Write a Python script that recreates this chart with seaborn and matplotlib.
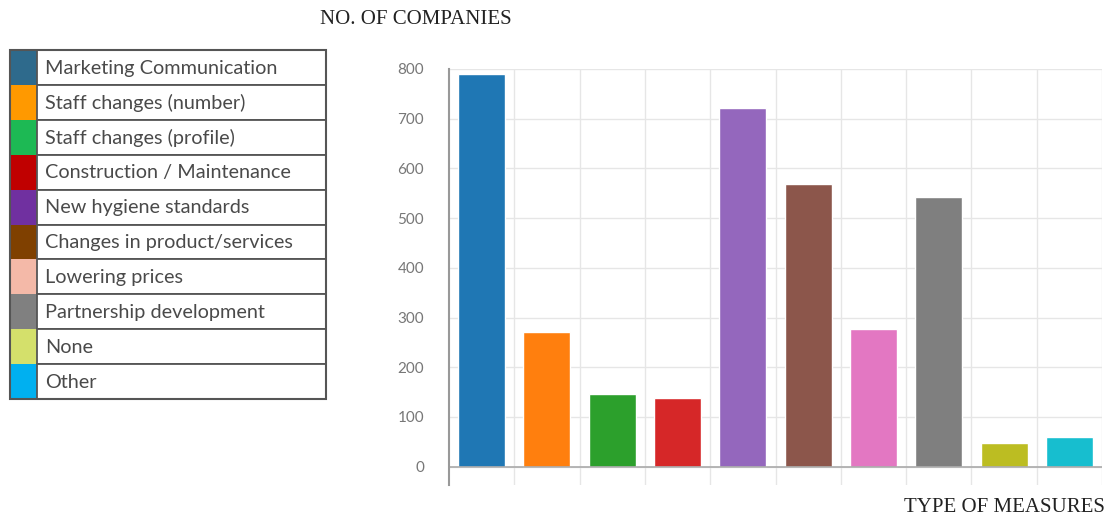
import matplotlib
matplotlib.use("Agg")
import matplotlib.pyplot as plt
from matplotlib.patches import Rectangle
import seaborn as sns
import numpy as np
import pandas as pd

# data
measures = ["Marketing Communication", "Staff changes (number)", "Staff changes (profile)",
            "Construction / Maintenance", "New hygiene standards", "Changes in product/services",
            "Lowering prices", "Partnership development", "None", "Other"]
companies = [790, 270, 146, 138, 721, 569, 277, 542, 47, 59]
bar_colors = ["#1f77b4", "#ff7f0e", "#2ca02c", "#d62728", "#9467bd",
              "#8c564b", "#e377c2", "#7f7f7f", "#bcbd22", "#17becf"]
legend_colors = ["#2e6a8c", "#ff9900", "#1db954", "#c00000", "#7030a0",
                 "#7f4000", "#f4b9a8", "#808080", "#d4e06b", "#00b0f0"]
yticks = [0, 100, 200, 300, 400, 500, 600, 700, 800]

sns.set_style("white")
plt.rcParams['font.family'] = ['Lato', 'DejaVu Sans']

df = pd.DataFrame({"measure": measures, "companies": companies})

fig = plt.figure(figsize=(11.1, 5.2), dpi=100)
ax = fig.add_axes([449 / 1110, 35 / 520, 653 / 1110, 416 / 520])

sns.barplot(data=df, x="measure", y="companies", hue="measure", palette=bar_colors,
            legend=False, width=0.72, saturation=1, ax=ax)

ax.set_xlim(-0.5, len(measures) - 0.5)
ax.set_ylim(-37, 800)
ax.set_yticks(yticks)
ax.set_yticklabels([str(t) for t in yticks], color="#777777", fontsize=11)
ax.set_xticks(np.arange(len(measures)) + 0.5, minor=False)
ax.set_xticklabels([])
ax.tick_params(axis="x", length=0)
ax.tick_params(axis="y", length=14, color="#dddddd", width=1, pad=4)
ax.set_xlabel("")
ax.set_ylabel("")
ax.set_axisbelow(True)
ax.grid(True, color="#e6e6e6", linewidth=1)
for s in ["top", "right", "bottom"]:
    ax.spines[s].set_visible(False)
ax.spines["left"].set_color("#999999")
ax.spines["left"].set_linewidth(1.5)
ax.axhline(0, color="#aaaaaa", linewidth=1.2, zorder=1)

fig.text(320 / 1110, 1 - 19 / 520, "NO. OF COMPANIES", family="Liberation Serif",
         fontsize=15, color="#222222", va="center", ha="left")
fig.text(1105 / 1110, 1 - 507 / 520, "TYPE OF MEASURES", family="Liberation Serif",
         fontsize=15, color="#222222", va="center", ha="right")

# legend drawn as a table
lg = fig.add_axes([10 / 1110, 1 - 399 / 520, 316 / 1110, 349 / 520])
lg.set_xlim(0, 316)
lg.set_ylim(len(measures), 0)
lg.axis("off")
for i, (name, col) in enumerate(zip(measures, legend_colors)):
    lg.add_patch(Rectangle((0, i), 27, 1, facecolor=col, edgecolor="none"))
    lg.add_patch(Rectangle((27, i), 289, 1, facecolor="white", edgecolor="#555555",
                           linewidth=1.3))
    lg.text(35, i + 0.52, name, fontsize=14.3, color="#4a4a4a", va="center", ha="left")
lg.add_patch(Rectangle((0, 0), 316, len(measures), facecolor="none",
                       edgecolor="#555555", linewidth=1.5, clip_on=False))

fig.savefig("out.png", dpi=100)
